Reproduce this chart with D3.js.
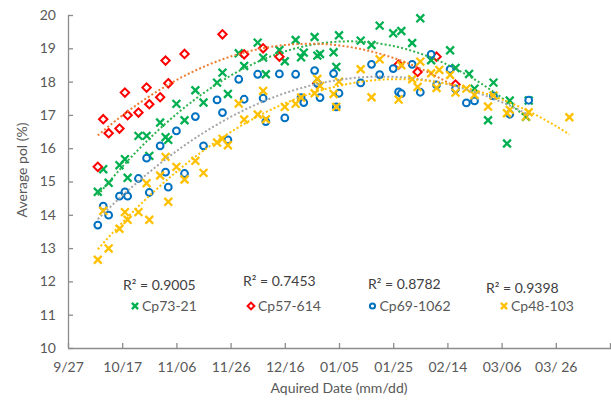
<!DOCTYPE html>
<html>
<head>
<meta charset="utf-8">
<script src="https://cdn.jsdelivr.net/npm/d3@7"></script>
<style>
  html, body { margin: 0; padding: 0; background: #fff; }
  svg { display: block; font-family: Lato, "Open Sans", sans-serif; }
</style>
</head>
<body>
<svg id="chart" width="611" height="400"></svg>
<script>
// ---- Data (x = days after 9/27, y = average pol %) ----
const seriesNames = ["Cp73-21", "Cp57-614", "Cp69-1062", "Cp48-103"];
const rSquaredLabels = ["R\u00B2 = 0.9005", "R\u00B2 = 0.7453", "R\u00B2 = 0.8782", "R\u00B2 = 0.9398"];
const tickLabels = ["9/27", "10/17", "11/06", "11/26", "12/16", "01/05", "01/25", "02/14", "03/06", "03/ 26", ""];
const yTicks = [10, 11, 12, 13, 14, 15, 16, 17, 18, 19, 20];

const cp7321Day = [11, 15, 13, 19, 21, 22, 26, 29, 30, 34, 36, 37, 40, 43, 47, 50, 55, 57, 59, 63, 65, 70, 72, 73, 78, 80, 84, 86, 87, 91, 92, 93, 98, 100, 99, 108, 112, 115, 120, 123, 130, 127, 134, 141, 143, 148, 150, 157, 163, 155, 162, 170, 169];
const cp7321Pol = [14.69, 14.96, 15.37, 15.49, 15.67, 15.11, 16.37, 16.37, 15.77, 16.77, 16.33, 16.25, 17.33, 16.84, 17.74, 17.37, 17.97, 18.27, 17.63, 18.85, 18.47, 19.17, 18.72, 18.22, 18.95, 18.61, 19.25, 18.73, 18.87, 19.34, 18.78, 18.83, 18.88, 19.39, 18.44, 19.23, 19.10, 19.68, 19.45, 19.52, 19.90, 19.16, 18.64, 18.94, 18.41, 18.23, 17.79, 17.97, 17.43, 16.84, 16.14, 17.43, 16.94];

const cp57614Day = [11, 15, 13, 19, 21, 22, 26, 29, 30, 34, 36, 37, 43, 57, 65, 72, 78, 92, 122, 129, 136, 143];
const cp57614Pol = [15.44, 16.45, 16.87, 16.59, 17.67, 16.99, 17.07, 17.82, 17.32, 17.53, 18.63, 17.95, 18.83, 19.42, 18.82, 19.00, 18.75, 17.95, 18.51, 18.29, 18.75, 17.91];

const cp691062Day = [11, 13, 15, 19, 21, 22, 26, 29, 30, 34, 36, 37, 40, 43, 47, 50, 55, 57, 59, 63, 65, 70, 72, 73, 78, 80, 84, 86, 87, 91, 92, 93, 98, 100, 99, 108, 112, 115, 120, 122, 123, 127, 130, 134, 136, 141, 143, 147, 150, 157, 163, 170];
const cp691062Pol = [13.69, 14.26, 13.99, 14.56, 14.69, 14.56, 15.09, 15.70, 14.67, 16.07, 15.28, 14.83, 16.52, 15.24, 16.95, 16.07, 17.45, 17.07, 16.25, 18.07, 17.47, 18.22, 17.50, 16.80, 18.23, 16.91, 18.22, 17.52, 17.37, 18.33, 17.95, 17.52, 18.24, 17.65, 17.24, 17.96, 18.52, 18.21, 18.39, 17.69, 17.64, 18.52, 17.68, 18.82, 17.90, 18.37, 17.78, 17.36, 17.42, 17.57, 17.02, 17.44];

const cp48103Day = [11, 15, 19, 13, 21, 22, 26, 30, 29, 34, 36, 37, 40, 43, 47, 50, 55, 57, 59, 63, 65, 70, 72, 73, 80, 84, 86, 91, 92, 93, 98, 99, 100, 108, 112, 115, 122, 123, 127, 130, 129, 134, 137, 141, 136, 143, 147, 150, 155, 157, 162, 163, 169, 170, 185];
const cp48103Pol = [12.65, 12.99, 13.58, 14.12, 14.08, 13.85, 14.08, 13.85, 14.95, 15.18, 15.74, 14.39, 15.44, 15.06, 15.62, 15.26, 16.17, 16.28, 16.09, 17.34, 16.86, 17.01, 17.72, 16.87, 17.24, 17.33, 17.52, 17.65, 18.08, 17.87, 17.63, 17.24, 18.00, 18.37, 17.53, 18.67, 17.46, 18.49, 18.07, 18.60, 17.84, 18.25, 18.35, 18.20, 17.81, 17.67, 17.79, 17.60, 17.25, 17.58, 17.05, 17.15, 16.95, 17.08, 16.93];

// ---- Styles ----
const markerColors = ["#00B050", "#FF0000", "#0070C0", "#FFC000"];
const trendColors = ["#2DB24C", "#ED7D31", "#A5A5A5", "#FFC000"];
const markerShapes = ["x", "diamond", "circle", "x"];
const textColor = "#595959";
const axisColor = "#8C8C8C";

const series = [
  { name: seriesNames[0], days: cp7321Day, pol: cp7321Pol },
  { name: seriesNames[1], days: cp57614Day, pol: cp57614Pol },
  { name: seriesNames[2], days: cp691062Day, pol: cp691062Pol },
  { name: seriesNames[3], days: cp48103Day, pol: cp48103Pol }
].map((s, i) => ({ ...s, color: markerColors[i], trend: trendColors[i], shape: markerShapes[i],
  points: s.days.map((d, j) => ({ d, v: s.pol[j] })) }));

const svg = d3.select("#chart");
const x = d3.scaleLinear().domain([0, 200]).range([68, 610]);
const y = d3.scaleLinear().domain([10, 20]).range([348, 15]);

// ---- Axes ----
const xAxis = d3.axisBottom(x).tickValues(d3.range(0, 201, 20)).tickSize(-5).tickPadding(14)
  .tickFormat((d, i) => tickLabels[i]);
const yAxis = d3.axisLeft(y).tickValues(yTicks).tickSize(-5).tickPadding(12).tickFormat(d3.format("d"));

const gx = svg.append("g").attr("transform", `translate(0,${y(10)})`).call(xAxis);
const gy = svg.append("g").attr("transform", `translate(${x(0)},0)`).call(yAxis);
[gx, gy].forEach(g => {
  g.select(".domain").attr("stroke", axisColor).attr("stroke-width", 1.3);
  g.selectAll(".tick line").attr("stroke", axisColor).attr("stroke-width", 1.3);
  g.selectAll(".tick text").attr("fill", textColor).style("font-size", "14px").style("font-family", "Lato, sans-serif");
});
gy.select(".domain").attr("d", `M0.5,${y(20)}V${y(10)}`);
gx.select(".domain").attr("d", `M${x(0)},0.5H${611}`);

svg.append("text").attr("x", 339).attr("y", 393).attr("text-anchor", "middle")
  .attr("fill", textColor).style("font-size", "14px").text("Aquired Date (mm/dd)");
svg.append("text").attr("transform", "translate(27,170) rotate(-90)").attr("text-anchor", "middle")
  .attr("fill", textColor).style("font-size", "14px").text("Average pol (%)");

// ---- Markers ----
function drawMarker(g, shape, color, size) {
  if (shape === "x") {
    const h = size + 0.3;
    g.append("path").attr("d", `M${-h},${-h}L${h},${h}M${-h},${h}L${h},${-h}`)
      .attr("stroke", color).attr("stroke-width", 2.3).attr("fill", "none");
  } else if (shape === "diamond") {
    const h = size + 0.6;
    g.append("path").attr("d", `M0,${-h}L${h},0L0,${h}L${-h},0Z`)
      .attr("stroke", color).attr("stroke-width", 2).attr("fill", "#fff");
  } else {
    g.append("circle").attr("r", size - 0.2).attr("stroke", color).attr("stroke-width", 2).attr("fill", "#fff");
  }
}

series.forEach(s => {
  const g = svg.append("g");
  s.points.forEach(p => {
    const m = g.append("g").attr("transform", `translate(${x(p.d)},${y(p.v)})`);
    drawMarker(m, s.shape, s.color, 3.6);
  });
});

// ---- Polynomial (order 2) trendlines fitted from the data ----
function quadFit(xs, ys) {
  const n = xs.length;
  const mx = d3.mean(xs);
  let s1 = 0, s2 = 0, s3 = 0, s4 = 0, t0 = 0, t1 = 0, t2 = 0;
  xs.forEach((xv, i) => {
    const u = xv - mx, yv = ys[i];
    s1 += u; s2 += u * u; s3 += u * u * u; s4 += u * u * u * u;
    t0 += yv; t1 += u * yv; t2 += u * u * yv;
  });
  const A = [[n, s1, s2], [s1, s2, s3], [s2, s3, s4]];
  const B = [t0, t1, t2];
  const det = m => m[0][0] * (m[1][1] * m[2][2] - m[1][2] * m[2][1])
    - m[0][1] * (m[1][0] * m[2][2] - m[1][2] * m[2][0])
    + m[0][2] * (m[1][0] * m[2][1] - m[1][1] * m[2][0]);
  const D = det(A);
  const coef = [0, 1, 2].map(k => det(A.map((row, r) => row.map((v, c) => c === k ? B[r] : v))) / D);
  return xv => { const u = xv - mx; return coef[0] + coef[1] * u + coef[2] * u * u; };
}

const line = d3.line().x(d => x(d.d)).y(d => y(d.v)).curve(d3.curveLinear);
series.forEach(s => {
  const f = quadFit(s.days, s.pol);
  const [d0, d1] = d3.extent(s.days);
  const pts = d3.range(d0, d1 + 0.001, 1).map(d => ({ d, v: f(d) }));
  svg.append("path").datum(pts).attr("d", line).attr("fill", "none")
    .attr("stroke", s.trend).attr("stroke-width", 2).attr("stroke-dasharray", "2,2.2");
});

// ---- R² labels ----
const r2Pos = [[123, 290], [243, 286], [368, 289], [486, 293]];
rSquaredLabels.forEach((t, i) => {
  svg.append("text").attr("x", r2Pos[i][0]).attr("y", r2Pos[i][1]).attr("fill", "#404040")
    .style("font-size", "14px").text(t);
});

// ---- Legend ----
const legendX = [135, 251, 372.5, 504];
series.forEach((s, i) => {
  const m = svg.append("g").attr("transform", `translate(${legendX[i]},306)`);
  drawMarker(m, s.shape, s.color, 2.8);
  svg.append("text").attr("x", legendX[i] + 7).attr("y", 311).attr("fill", textColor)
    .style("font-size", "14px").text(s.name);
});
</script>
</body>
</html>
